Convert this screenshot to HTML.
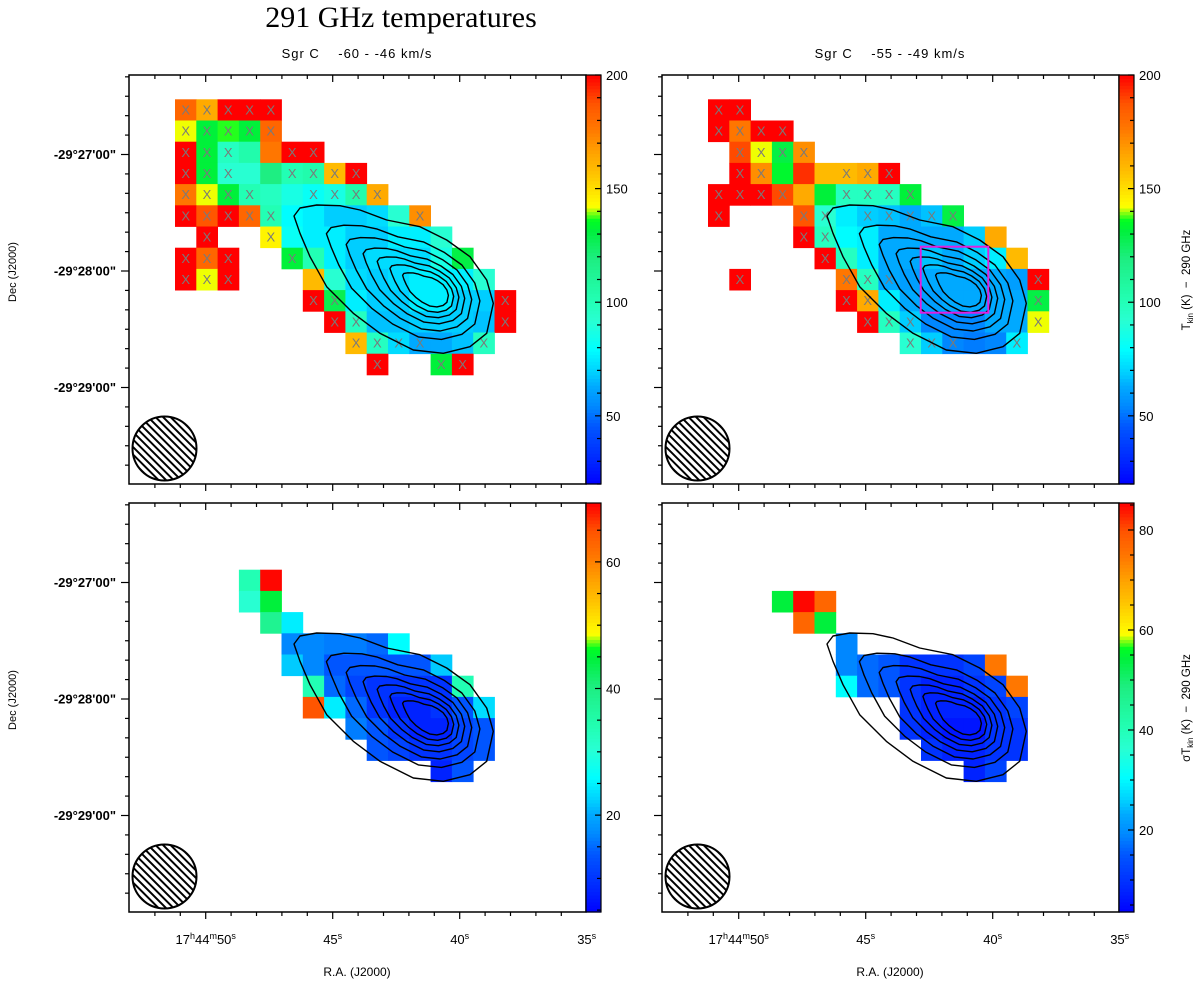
<!DOCTYPE html>
<html><head><meta charset="utf-8">
<style>
html,body{margin:0;padding:0;background:#fff;}
svg{display:block;font-family:"Liberation Sans",sans-serif;}
</style></head>
<body>
<svg id="fig" width="1200" height="982" viewBox="0 0 1200 982" xmlns="http://www.w3.org/2000/svg">
<defs>
<clipPath id="beamclip1"><circle cx="164.5" cy="448.5" r="32"/></clipPath>
<clipPath id="beamclip2"><circle cx="697.5" cy="448.5" r="32"/></clipPath>
<clipPath id="beamclip3"><circle cx="164.5" cy="876.5" r="32"/></clipPath>
<clipPath id="beamclip4"><circle cx="697.5" cy="876.5" r="32"/></clipPath>
</defs>
<text x="401" y="27" text-anchor="middle" font-family="Liberation Serif, serif" font-size="30">291 GHz temperatures</text>
<g id="layer"></g>
</svg>
<script>
// ---- data ----
const cellsTopLeft = [
[0,0,182,1],[1,0,164,1],[2,0,200,1],[3,0,200,1],[4,0,200,1],
[0,1,142,1],[1,1,132,1],[2,1,137,1],[3,1,132,1],[4,1,182,1],
[0,2,200,1],[1,2,132,1],[2,2,97,1],[3,2,104,0],[4,2,177,0],[5,2,200,1],[6,2,200,1],
[0,3,200,1],[1,3,132,1],[2,3,92,1],[3,3,92,0],[4,3,119,0],[5,3,101,1],[6,3,104,1],[7,3,159,1],[8,3,200,1],
[0,4,177,1],[1,4,142,1],[2,4,132,1],[3,4,101,1],[4,4,97,0],[5,4,87,0],[6,4,82,1],[7,4,87,1],[8,4,104,1],[9,4,164,1],
[0,5,200,1],[1,5,187,1],[2,5,200,1],[3,5,182,1],[4,5,101,1],[5,5,79,0],[6,5,76,0],[7,5,69,0],[8,5,69,0],[9,5,72,0],[10,5,92,0],[11,5,171,1],
[1,6,200,1],[4,6,145,1],[5,6,82,0],[6,6,76,0],[7,6,76,0],[8,6,69,0],[9,6,69,0],[10,6,76,0],[11,6,76,0],[12,6,92,0],
[0,7,200,1],[1,7,182,1],[2,7,200,1],[5,7,132,1],[6,7,101,0],[7,7,76,0],[8,7,69,0],[9,7,72,0],[10,7,72,0],[11,7,72,0],[12,7,87,0],[13,7,130,0],
[0,8,200,1],[1,8,142,1],[2,8,200,1],[6,8,159,0],[7,8,92,0],[8,8,72,0],[9,8,69,0],[10,8,72,0],[11,8,76,0],[12,8,76,0],[13,8,76,0],[14,8,92,0],
[6,9,200,1],[7,9,128,1],[8,9,76,0],[9,9,69,0],[10,9,69,0],[11,9,76,0],[12,9,76,0],[13,9,69,0],[14,9,69,0],[15,9,200,1],
[7,10,200,1],[8,10,97,1],[9,10,67,0],[10,10,67,0],[11,10,69,0],[12,10,69,0],[13,10,69,0],[14,10,67,0],[15,10,200,1],
[8,11,159,1],[9,11,97,1],[10,11,72,1],[11,11,63,1],[12,11,63,0],[13,11,67,0],[14,11,97,1],
[9,12,200,1],[12,12,132,1],[13,12,200,1]
];
const cellsTopRight = [
[0,0,200,1],[1,0,200,1],
[0,1,200,1],[1,1,177,1],[2,1,200,1],[3,1,200,1],
[1,2,189,1],[2,2,142,1],[3,2,130,1],[4,2,171,1],
[1,3,200,1],[2,3,171,1],[3,3,134,0],[4,3,193,0],[5,3,159,0],[6,3,159,1],[7,3,164,1],[8,3,200,1],
[0,4,200,1],[1,4,200,1],[2,4,200,1],[3,4,189,1],[4,4,164,0],[5,4,132,0],[6,4,97,1],[7,4,97,1],[8,4,97,1],[9,4,132,1],
[0,5,200,1],[4,5,187,1],[5,5,92,1],[6,5,76,0],[7,5,69,1],[8,5,67,1],[9,5,63,1],[10,5,67,1],[11,5,130,1],
[4,6,200,1],[5,6,97,1],[6,6,79,0],[7,6,76,0],[8,6,63,0],[9,6,63,0],[10,6,63,0],[11,6,63,0],[12,6,69,0],[13,6,164,0],
[5,7,200,1],[6,7,97,0],[7,7,76,0],[8,7,63,0],[9,7,63,0],[10,7,67,0],[11,7,63,0],[12,7,69,0],[13,7,76,0],[14,7,159,0],
[1,8,200,1],[6,8,177,1],[7,8,97,1],[8,8,63,1],[9,8,60,0],[10,8,63,0],[11,8,63,0],[12,8,63,0],[13,8,63,0],[14,8,60,0],[15,8,200,1],
[6,9,200,1],[7,9,164,1],[8,9,76,0],[9,9,63,0],[10,9,60,0],[11,9,63,0],[12,9,63,0],[13,9,63,0],[14,9,63,0],[15,9,130,1],
[7,10,200,1],[8,10,97,1],[9,10,69,1],[10,10,54,0],[11,10,54,0],[12,10,54,0],[13,10,63,0],[14,10,63,0],[15,10,142,1],
[9,11,92,1],[10,11,69,1],[11,11,54,1],[12,11,52,0],[13,11,54,0],[14,11,76,1]
];
const cellsBottomLeft = [
[3,2,33.8],[4,2,69],[3,3,30.5],[4,3,44.8],[4,4,38.3],[5,4,24.7],
[5,5,17],[6,5,17],[7,5,16.3],[8,5,16.3],[9,5,15],[10,5,26],
[5,6,22.1],[6,6,17],[7,6,13.7],[8,6,13.7],[9,6,13.7],[10,6,13.7],[11,6,13.7],[12,6,22.1],
[6,7,33.8],[7,7,15],[8,7,11.8],[9,7,9.9],[10,7,9.9],[11,7,9.9],[12,7,9.9],[13,7,33.8],
[6,8,64.8],[7,8,24.7],[8,8,15],[9,8,9.9],[10,8,7.9],[11,8,7.9],[12,8,9.9],[13,8,13.7],[14,8,23.4],
[8,9,16.3],[9,9,13.7],[10,9,9.9],[11,9,7.9],[12,9,7.9],[13,9,11.8],[14,9,13.7],
[9,10,13.7],[10,10,11.8],[11,10,9.9],[12,10,9.9],[13,10,11.8],[14,10,13.7],
[12,11,7.9],[13,11,13.7]
];
const cellsBottomRight = [
[3,3,54.3],[4,3,85],[5,3,77.2],
[4,4,77.2],[5,4,54.3],
[6,5,19.1],
[6,6,19.1],[7,6,16.7],[8,6,15.1],[9,6,10.1],[10,6,10.1],[11,6,10.1],[12,6,12.6],[13,6,74.8],
[6,7,30.6],[7,7,16.7],[8,7,15.1],[9,7,10.1],[10,7,7.7],[11,7,7.7],[12,7,10.1],[13,7,12.6],[14,7,74.8],
[9,8,10.1],[10,8,7.7],[11,8,7.7],[12,8,7.7],[13,8,10.1],[14,8,12.6],
[9,9,10.1],[10,9,7.7],[11,9,6.1],[12,9,6.1],[13,9,10.1],[14,9,10.1],
[10,10,10.1],[11,10,7.7],[12,10,7.7],[13,10,10.1],[14,10,10.1],
[12,11,7.7],[13,11,12.6]
];
const rangeTop = [20,200];
const rangeBL = [4.7,69.3];
const rangeBR = [3.6,85.4];
const cbTicksTop = [50,100,150,200];
const cbTicksBL = [20,40,60];
const cbTicksBR = [20,40,60,80];
const raTickLabels = ["50","45","40","35"];
const raTickSeconds = [50,45,40,35];
const decTickLabels = ["-29\u00b027'00\"","-29\u00b028'00\"","-29\u00b029'00\""];
const decTickMinutes = [27,28,29];
// contour: outer level shape (panel-relative px) and level scale factors
const contourOuter = [[165,141],[171,133],[187.7,130],[211,130.7],[231,135],[257.7,145],[291,151.7],[317.7,165],[341,181.7],[357.7,205],[364.3,228.3],[357.7,258.3],[341,271.7],[314.3,278.3],[284.3,275],[251,258.3],[224.3,238.3],[197.7,211.7],[181,181.7],[171,158.3]];
const contourLevels = [1,0.77,0.63,0.51,0.41,0.32,0.23];

// ---- colormap ----
const cmapStops = [[0,[0,0,255]],[0.05,[0,34,255]],[0.14,[0,85,255]],[0.19,[0,136,255]],[0.24,[0,170,255]],[0.27,[0,204,255]],[0.33,[0,255,255]],[0.40,[40,255,210]],[0.45,[34,255,180]],[0.55,[30,238,130]],[0.62,[0,240,60]],[0.645,[0,255,34]],[0.68,[255,255,0]],[0.77,[255,187,0]],[0.8,[255,170,0]],[0.87,[255,119,0]],[0.93,[255,85,0]],[1,[255,0,0]]];
function cmap(f){
  f=Math.max(0,Math.min(1,f));
  for(let i=1;i<cmapStops.length;i++){
    if(f<=cmapStops[i][0]){
      const a=cmapStops[i-1],b=cmapStops[i];
      const t=(f-a[0])/(b[0]-a[0]);
      const c=a[1].map((v,k)=>Math.round(v+(b[1][k]-v)*t));
      return 'rgb('+c.join(',')+')';
    }
  }
  return 'rgb(255,0,0)';
}
const NS='http://www.w3.org/2000/svg';
const layer=document.getElementById('layer');
function mk(tag,attrs,parent){const e=document.createElementNS(NS,tag);for(const k in attrs)e.setAttribute(k,attrs[k]);(parent||layer).appendChild(e);return e;}

const W=457,H=409,CW=21.3,CH=21.2;
const panels=[
 {ox:129,oy:75,cells:cellsTopLeft,range:rangeTop,ticks:cbTicksTop,minor:10,title:"Sgr C    -60 - -46 km/s",xlab:false,ylab:true,cbtitle:null,clip:'beamclip1',name:'panel-top-left',box:false},
 {ox:662,oy:75,cells:cellsTopRight,range:rangeTop,ticks:cbTicksTop,minor:10,title:"Sgr C    -55 - -49 km/s",xlab:false,ylab:false,cbtitle:"T|kin| (K)  \u2212  290 GHz",clip:'beamclip2',name:'panel-top-right',box:true},
 {ox:129,oy:503,cells:cellsBottomLeft,range:rangeBL,ticks:cbTicksBL,minor:5,title:null,xlab:true,ylab:true,cbtitle:null,clip:'beamclip3',name:'panel-bottom-left',box:false},
 {ox:662,oy:503,cells:cellsBottomRight,range:rangeBR,ticks:cbTicksBR,minor:5,title:null,xlab:true,ylab:false,cbtitle:"\u03c3T|kin| (K)  \u2212  290 GHz",clip:'beamclip4',name:'panel-bottom-right',box:false}
];
function xOfRA(p,s){return p.ox+76.7+(50-s)*25.4;}
function yOfDec(p,m){return p.oy+79.5+(m-27)*116.5;}

panels.forEach(p=>{
  const g=mk('g',{});
  
  
  p.cells.forEach(c=>{
    const f=(c[2]-p.range[0])/(p.range[1]-p.range[0]);
    const x=p.ox+46+CW*c[0], y=p.oy+24.3+CH*c[1];
    const r=mk('rect',{x:x.toFixed(2),y:y.toFixed(2),width:CW+0.4,height:CH+0.4,fill:cmap(f)},g);
    
    
  });
  p.cells.forEach(c=>{
    if(c[3]){
      const x=p.ox+46+CW*c[0]+CW/2, y=p.oy+24.3+CH*c[1]+CH/2+4.5;
      const t=mk('text',{x:x.toFixed(2),y:y.toFixed(2),'text-anchor':'middle','font-size':'13',fill:'#7a7a7a'},g);
      t.textContent='X';
      
      
    }
  });
  const cx=306,cy=218;
  contourLevels.forEach(s=>{
    const pts=contourOuter.map(q=>[(p.ox+cx+(q[0]-cx)*s).toFixed(1),(p.oy+cy+(q[1]-cy)*s).toFixed(1)].join(',')).join(' ');
    const pl=mk('polygon',{points:pts,fill:'none',stroke:'#000','stroke-width':'1.4','stroke-linejoin':'round'},g);
    
    
  });
  if(p.box){
    const b=mk('rect',{x:920.7,y:246.7,width:67.6,height:66,fill:'none',stroke:'#e020e0','stroke-width':'2'},g);
    
    
  }
  const bx=p.ox+35.5, by=p.oy+373.5;
  const bg=mk('g',{'clip-path':'url(#'+p.clip+')'},g);
  
  
  for(let k=-60;k<=60;k+=7.5){
    mk('line',{x1:bx-40+k,y1:by-40,x2:bx+40+k,y2:by+40,stroke:'#000','stroke-width':'2'},bg);
  }
  const bc=mk('circle',{cx:bx,cy:by,r:32,fill:'none',stroke:'#000','stroke-width':'2'},g);
  
  
  const fr=mk('rect',{x:p.ox,y:p.oy,width:W,height:H,fill:'none',stroke:'#000','stroke-width':'1.5'},g);
  
  
  for(let s=53;s>=35;s--){
    const x=xOfRA(p,s); if(x<p.ox+1||x>p.ox+W-1)continue;
    const maj=(s%5===0);
    mk('line',{x1:x,y1:p.oy,x2:x,y2:p.oy+(maj?7:4),stroke:'#000','stroke-width':'1.2'},g);
    mk('line',{x1:x,y1:p.oy+H,x2:x,y2:p.oy+H+(maj?7:4),stroke:'#000','stroke-width':'1.2'},g);
  }
  for(let k=-6;k<=18;k++){
    const y=yOfDec(p,27)+k*116.5/6; if(y<p.oy+1||y>p.oy+H-1)continue;
    const maj=(k%6===0);
    mk('line',{x1:p.ox,y1:y,x2:p.ox-(maj?8:4),y2:y,stroke:'#000','stroke-width':'1.2'},g);
  }
  if(p.ylab){
    decTickMinutes.forEach((m,i)=>{
      const t=mk('text',{x:p.ox-13,y:yOfDec(p,m)+4.5,'text-anchor':'end','font-size':'13','font-weight':'bold'},g);
      t.textContent=decTickLabels[i];
      
      
    });
    const yl=mk('text',{x:0,y:0,'text-anchor':'middle','font-size':'11',transform:'translate(16,'+(p.oy+197)+') rotate(-90)'},g);
    yl.textContent='Dec (J2000)';
    
    
  }
  if(p.xlab){
    raTickSeconds.forEach((s,i)=>{
      const t=mk('text',{x:xOfRA(p,s),y:p.oy+H+32,'text-anchor':'middle','font-size':'13'},g);
      if(i===0){
        t.innerHTML='17<tspan dy="-5" font-size="9">h</tspan><tspan dy="5">44</tspan><tspan dy="-5" font-size="9">m</tspan><tspan dy="5">'+raTickLabels[i]+'</tspan><tspan dy="-5" font-size="9">s</tspan>';
      } else {
        t.innerHTML=raTickLabels[i]+'<tspan dy="-5" font-size="9">s</tspan>';
      }
      
      
    });
    const xl=mk('text',{x:p.ox+228,y:p.oy+H+64,'text-anchor':'middle','font-size':'12'},g);
    xl.textContent='R.A. (J2000)';
    
    
  }
  if(p.title){
    const t=mk('text',{x:p.ox+228,y:p.oy-17,'text-anchor':'middle','font-size':'13','letter-spacing':'1'},g);
    t.setAttribute('xml:space','preserve');
    t.style.whiteSpace='pre';
    t.textContent=p.title;
    
    
  }
  const cbx=p.ox+W, cbw=15;
  const cb=mk('g',{},g);
  
  
  const N=120;
  for(let i=0;i<N;i++){
    mk('rect',{x:cbx,y:(p.oy+H-(i+1)*H/N).toFixed(2),width:cbw,height:(H/N+0.6).toFixed(2),fill:cmap((i+0.5)/N)},cb);
  }
  mk('rect',{x:cbx,y:p.oy,width:cbw,height:H,fill:'none',stroke:'#000','stroke-width':'1.2'},cb);
  const vy=v=>p.oy+H-(v-p.range[0])/(p.range[1]-p.range[0])*H;
  for(let v=Math.ceil(p.range[0]/p.minor)*p.minor;v<=p.range[1];v+=p.minor){
    const y=vy(v); const maj=p.ticks.includes(v);
    mk('line',{x1:cbx+cbw,y1:y,x2:cbx+cbw-(maj?6:4),y2:y,stroke:'#000','stroke-width':'1.2'},cb);
  }
  p.ticks.forEach(v=>{
    const t=mk('text',{x:cbx+cbw+5,y:vy(v)+5,'font-size':'13'},cb);
    t.textContent=String(v);
    
    
  });
  if(p.cbtitle){
    const parts=p.cbtitle.split('|');
    const t=mk('text',{x:0,y:0,'text-anchor':'middle','font-size':'11.5',transform:'translate(1190,'+(p.oy+205)+') rotate(-90)'},cb);
    t.setAttribute('xml:space','preserve');
    t.style.whiteSpace='pre';
    t.innerHTML=parts[0]+'<tspan dy="3" font-size="8">'+parts[1]+'</tspan><tspan dy="-3">'+parts[2]+'</tspan>';
    
    
  }
});
</script>
</body></html>
